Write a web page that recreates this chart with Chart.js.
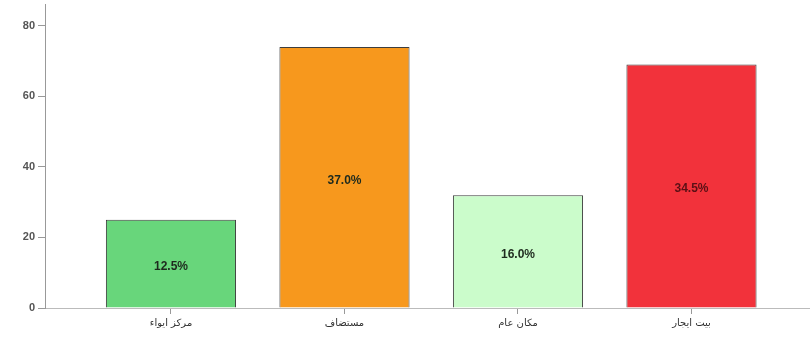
<!DOCTYPE html>
<html>
<head>
<meta charset="utf-8">
<script src="https://cdn.jsdelivr.net/npm/chart.js@4"></script>
<style>
  html, body { margin: 0; padding: 0; background: #fff; }
  #wrap { width: 810px; height: 338px; }
</style>
</head>
<body>
<div id="wrap"><canvas id="barChart"></canvas></div>
<script>
// chart data
const categories = ['مركز ايواء', 'مستضاف', 'مكان عام', 'بيت ايجار'];
const counts = [25, 74, 32, 69];
const pctLabels = ['12.5%', '37.0%', '16.0%', '34.5%'];
const yTicks = [0, 20, 40, 60, 80];
const barColors = ['#68d67b', '#f7981d', '#cbfccb', '#f2323b'];

// draws the percentage text in the middle of each bar
const pctPlugin = {
    id: 'pctPlugin',
    afterDatasetsDraw(chart) {
        const ctx = chart.ctx;
        const meta = chart.getDatasetMeta(0);
        ctx.save();
        ctx.font = 'bold 12px "Liberation Sans", Arial, sans-serif';
        ctx.textAlign = 'center';
        ctx.textBaseline = 'middle';
        meta.data.forEach((bar, i) => {
            ctx.fillStyle = i === 3 ? '#5a1015' : '#1e2a1e';
            ctx.fillText(pctLabels[i], bar.x, (bar.y + bar.base) / 2 + 3);
        });
        ctx.restore();
    }
};

function initializeChart() {
    const ctx = document.getElementById('barChart').getContext('2d');
    new Chart(ctx, {
        type: 'bar',
        data: {
            datasets: [{
                data: counts.map((v, i) => ({ x: i, y: v })),
                backgroundColor: barColors,
                borderColor: 'rgba(40,40,40,0.9)',
                borderWidth: 1,
                barPercentage: 0.75,
                categoryPercentage: 1
            }]
        },
        options: {
            responsive: true,
            maintainAspectRatio: false,
            animation: false,
            layout: { padding: { top: 1, right: 0, left: 0, bottom: 0 } },
            plugins: {
                legend: { display: false },
                tooltip: { enabled: false }
            },
            scales: {
                x: {
                    type: 'linear',
                    offset: false,
                    min: -0.726,
                    max: 3.683,
                    afterBuildTicks: scale => {
                        scale.ticks = categories.map((c, i) => ({ value: i }));
                    },
                    afterFit: scale => { scale.height = 30; },
                    ticks: {
                        callback: v => categories[v],
                        color: '#333',
                        font: { size: 10, family: '"DejaVu Sans", sans-serif' },
                        padding: 3,
                        maxRotation: 0
                    },
                    grid: { offset: false, drawOnChartArea: false, tickLength: 6, color: '#999' },
                    border: { color: '#bbb', width: 1 }
                },
                y: {
                    min: 0,
                    max: 86,
                    afterBuildTicks: scale => {
                        scale.ticks = yTicks.map(v => ({ value: v }));
                    },
                    afterFit: scale => { scale.width = 45; },
                    ticks: {
                        color: '#555',
                        font: { size: 11, weight: 'bold', lineHeight: 0.3, family: '"Liberation Sans", Arial, sans-serif' },
                        padding: 3
                    },
                    grid: { drawOnChartArea: false, tickLength: 7, color: '#999' },
                    border: { color: '#999', width: 1 }
                }
            }
        },
        plugins: [pctPlugin]
    });
}

document.addEventListener('DOMContentLoaded', initializeChart);
</script>
</body>
</html>
